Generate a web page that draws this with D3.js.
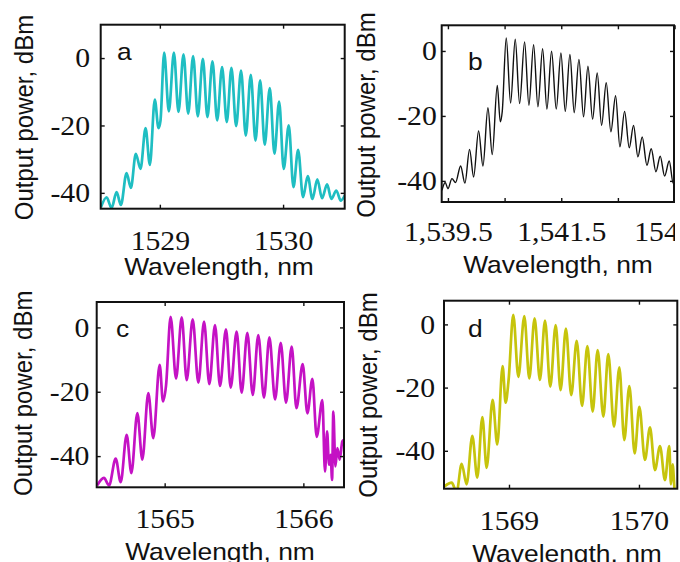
<!DOCTYPE html>
<html><head><meta charset="utf-8">
<script src="https://cdn.jsdelivr.net/npm/d3@7"></script>
<style>body{margin:0;background:#fff}svg{display:block}</style>
</head><body>
<svg id="chart" width="680" height="562"></svg>
<script>
// ---- Data (alternating troughs / peaks of each spectrum) ----
const wlA = [1528.522,1528.568,1528.608,1528.649,1528.684,1528.730,1528.765,1528.805,1528.843,1528.884,1528.919,1528.959,1528.989,1529.005,1529.035,1529.073,1529.114,1529.151,1529.192,1529.230,1529.270,1529.308,1529.349,1529.386,1529.427,1529.465,1529.505,1529.543,1529.581,1529.619,1529.659,1529.697,1529.738,1529.776,1529.814,1529.851,1529.892,1529.930,1529.968,1530.005,1530.046,1530.084,1530.122,1530.162,1530.200,1530.238,1530.278,1530.316,1530.357,1530.392,1530.432,1530.468,1530.500];
const dbA = [-44.3,-41.3,-44.5,-39.8,-43.6,-34.1,-38.5,-28.4,-32.9,-20.8,-31.7,-12.3,-20.8,-18.6,1.6,-15.8,1.6,-16.0,1.1,-16.5,0.6,-17.3,-0.2,-17.5,-1.0,-18.5,-2.7,-19.0,-2.9,-20.2,-3.7,-23.0,-5.0,-24.5,-6.6,-25.7,-8.9,-28.4,-12.9,-32.9,-20.0,-38.3,-27.2,-41.3,-35.0,-41.8,-36.0,-41.6,-37.5,-41.8,-39.3,-42.3,-40.8];

const wlB = [1539.394,1539.453,1539.500,1539.571,1539.635,1539.724,1539.800,1539.882,1539.953,1540.041,1540.118,1540.206,1540.282,1540.371,1540.424,1540.459,1540.529,1540.606,1540.688,1540.765,1540.853,1540.929,1541.012,1541.088,1541.171,1541.247,1541.329,1541.412,1541.494,1541.571,1541.653,1541.729,1541.812,1541.894,1541.971,1542.053,1542.135,1542.212,1542.294,1542.376,1542.459,1542.535,1542.618,1542.700,1542.776,1542.853,1542.929,1543.012,1543.088,1543.171,1543.247,1543.324,1543.406,1543.476,1543.490];
const dbB = [-42.9,-40.5,-42.4,-39.3,-40.5,-35.4,-40.7,-30.3,-38.8,-24.6,-35.4,-17.5,-31.9,-10.6,-21.8,-18.6,4.0,-16.0,3.6,-16.2,2.8,-16.7,1.9,-17.2,0.7,-17.9,-0.1,-17.9,-0.6,-18.6,-1.1,-19.0,-2.6,-20.3,-4.7,-21.0,-6.8,-22.9,-9.8,-24.9,-13.8,-29.5,-18.6,-29.8,-22.9,-32.6,-26.5,-35.2,-30.1,-37.2,-32.4,-38.5,-33.9,-40.8,-40.1];

const wlC = [1564.514,1564.562,1564.599,1564.647,1564.683,1564.726,1564.760,1564.803,1564.839,1564.882,1564.918,1564.964,1564.988,1565.010,1565.043,1565.082,1565.123,1565.159,1565.202,1565.243,1565.284,1565.322,1565.363,1565.399,1565.442,1565.476,1565.519,1565.555,1565.596,1565.635,1565.675,1565.716,1565.755,1565.796,1565.837,1565.875,1565.916,1565.950,1565.995,1566.029,1566.065,1566.096,1566.137,1566.156,1566.171,1566.185,1566.197,1566.207,1566.216,1566.231,1566.245,1566.262,1566.281,1566.293];
const dbC = [-49.1,-46.8,-49.1,-40.8,-48.1,-33.4,-45.3,-26.6,-41.1,-20.4,-34.4,-11.6,-23.0,-18.0,3.3,-15.9,3.1,-16.4,2.5,-17.2,1.8,-17.6,0.7,-18.2,-0.6,-18.7,-1.3,-20.3,-1.7,-21.0,-2.4,-21.8,-3.1,-22.4,-4.8,-23.4,-6.0,-25.1,-11.4,-26.7,-16.0,-34.0,-22.6,-44.8,-32.3,-42.7,-39.6,-47.4,-26.2,-43.2,-37.5,-41.1,-35.4,-34.9];

const wlD = [1568.500,1568.559,1568.597,1568.636,1568.674,1568.718,1568.756,1568.795,1568.828,1568.874,1568.910,1568.951,1568.974,1568.997,1569.033,1569.072,1569.118,1569.156,1569.197,1569.238,1569.277,1569.318,1569.359,1569.397,1569.438,1569.479,1569.521,1569.562,1569.603,1569.644,1569.682,1569.726,1569.764,1569.808,1569.849,1569.887,1569.926,1569.967,1570.003,1570.046,1570.085,1570.123,1570.162,1570.200,1570.233,1570.246,1570.259,1570.277,1570.295];
const dbD = [-51.4,-50.1,-53.0,-44.1,-50.6,-35.3,-48.5,-29.3,-45.4,-23.9,-38.0,-13.2,-24.8,-17.6,3.0,-16.6,2.6,-17.1,1.9,-17.6,1.2,-19.7,-0.2,-20.8,-1.3,-22.4,-5.2,-25.8,-6.9,-27.6,-8.1,-29.2,-9.4,-32.4,-13.6,-36.6,-19.5,-40.8,-26.1,-42.9,-32.6,-46.1,-38.5,-49.3,-38.5,-50.6,-44.3,-53.0,-53.0];

const yTicks = [-40, -20, 0];
const xTicksA = [1529, 1530];
const xTicksB = [1539.5, 1540.5, 1541.5, 1542.5, 1543.5];
const xLabelsB = {1539.5: "1,539.5", 1541.5: "1,541.5", 1543.5: "1543.5"};
const xTicksC = [1565, 1566];
const xTicksD = [1569, 1570];
const panelLetters = ["a", "b", "c", "d"];
const xTitle = "Wavelength, nm";
const yTitle = "Output power, dBm";

// ---- Layout / style ----
const SX = 1.1; // horizontal stretch of the original figure's text
const serif = "Liberation Serif, Tinos, Times New Roman, DejaVu Serif, serif";
const sans = "Liberation Sans, Arimo, Arial, sans-serif";

const panels = [
  {wl: wlA, db: dbA, color: "#1fbec2", lw: 2.7, box: [100.7, 24.7, 344.7, 208.7], xd: [1528.52, 1530.50], yd: [-44.7, 9.9],
   xt: xTicksA, fmt: d => String(d), xpad: 22.1, ypad: 9.7, letter: [117, 60], xT: [219, 275], yT: [33, 117.5]},
  {wl: wlB, db: dbB, color: "#111", lw: 1.4, box: [441.7, 25.3, 674, 202], xd: [1539.39, 1543.49], yd: [-46.5, 7.9],
   xt: xTicksB, fmt: d => xLabelsB[d] || "", xpad: 20.3, ypad: 4.5, letter: [468, 70], xT: [558, 273.3], yT: [375, 115], clipLabels: 675},
  {wl: wlC, db: dbC, color: "#c412c4", lw: 2.7, box: [96.7, 302, 344, 487.3], xd: [1564.51, 1566.293], yd: [-49.7, 7.9],
   xt: xTicksC, fmt: d => String(d), xpad: 21.5, ypad: 6.7, letter: [116, 337], xT: [220, 560], yT: [31.7, 393.3]},
  {wl: wlD, db: dbD, color: "#c6c40c", lw: 2.7, box: [444, 300.7, 677.3, 488.7], xd: [1568.5, 1570.295], yd: [-52.0, 7.5],
   xt: xTicksD, fmt: d => String(d), xpad: 22.1, ypad: 8.2, letter: [468, 337], xT: [567, 562], yT: [376.5, 395]}
];

const svg = d3.select("#chart");
const defs = svg.append("defs");

panels.forEach((p, i) => {
  const [l, t, r, b] = p.box;
  const x = d3.scaleLinear().domain(p.xd).range([l, r]);
  const y = d3.scaleLinear().domain(p.yd).range([b, t]);
  const g = svg.append("g");

  const cid = "clip" + i;
  defs.append("clipPath").attr("id", cid).append("rect")
    .attr("x", l).attr("y", t).attr("width", r - l).attr("height", b - t);

  const line = d3.line().x(d => x(d[0])).y(d => y(d[1])).curve(d3.curveMonotoneX);
  g.append("path").datum(d3.zip(p.wl, p.db))
    .attr("d", line).attr("fill", "none").attr("stroke", p.color)
    .attr("stroke-width", p.lw).attr("stroke-linejoin", "round")
    .attr("clip-path", `url(#${cid})`);

  const style = sel => {
    sel.attr("font-family", serif).attr("font-size", 27);
    sel.select(".domain").remove();
    sel.selectAll(".tick line").attr("stroke", "#111").attr("stroke-width", 1.4);
    sel.selectAll("text").attr("fill", "#111").attr("font-family", serif).attr("font-size", 27)
      .attr("transform", `scale(${SX},1)`);
  };

  // bottom axis with labels
  let holder = g;
  if (p.clipLabels) {
    const lc = "lclip" + i;
    defs.append("clipPath").attr("id", lc).append("rect").attr("x", 0).attr("y", 0).attr("width", p.clipLabels).attr("height", 562);
    holder = g.append("g").attr("clip-path", `url(#${lc})`);
  }
  holder.append("g").attr("transform", `translate(0,${b})`)
    .call(d3.axisBottom(x).tickValues(p.xt).tickFormat(p.fmt).tickSizeInner(-4).tickSizeOuter(0).tickPadding(p.xpad))
    .call(style);
  g.append("g").attr("transform", `translate(0,${t})`)
    .call(d3.axisTop(x).tickValues(p.xt).tickFormat("").tickSizeInner(-4).tickSizeOuter(0))
    .call(style);
  g.append("g").attr("transform", `translate(${l},0)`)
    .call(d3.axisLeft(y).tickValues(yTicks).tickFormat(d => String(d)).tickSizeInner(-4).tickSizeOuter(0).tickPadding(p.ypad))
    .call(style);
  g.append("g").attr("transform", `translate(${r},0)`)
    .call(d3.axisRight(y).tickValues(yTicks).tickFormat("").tickSizeInner(-4).tickSizeOuter(0))
    .call(style);

  // box
  g.append("rect").attr("x", l).attr("y", t).attr("width", r - l).attr("height", b - t)
    .attr("fill", "none").attr("stroke", "#111").attr("stroke-width", 2);

  // panel letter
  g.append("text").text(panelLetters[i])
    .attr("transform", `translate(${p.letter[0]},${p.letter[1]}) scale(${SX},1)`)
    .attr("font-family", sans).attr("font-size", 24).attr("fill", "#111");

  // axis titles
  g.append("text").text(xTitle)
    .attr("transform", `translate(${p.xT[0]},${p.xT[1]}) scale(${SX},1)`)
    .attr("text-anchor", "middle").attr("font-family", sans).attr("font-size", 24).attr("fill", "#111");
  g.append("text").text(yTitle)
    .attr("transform", `translate(${p.yT[0]},${p.yT[1]}) scale(${SX},1) rotate(-90)`)
    .attr("text-anchor", "middle").attr("font-family", sans).attr("font-size", 24).attr("fill", "#111");
});
</script>
</body></html>
